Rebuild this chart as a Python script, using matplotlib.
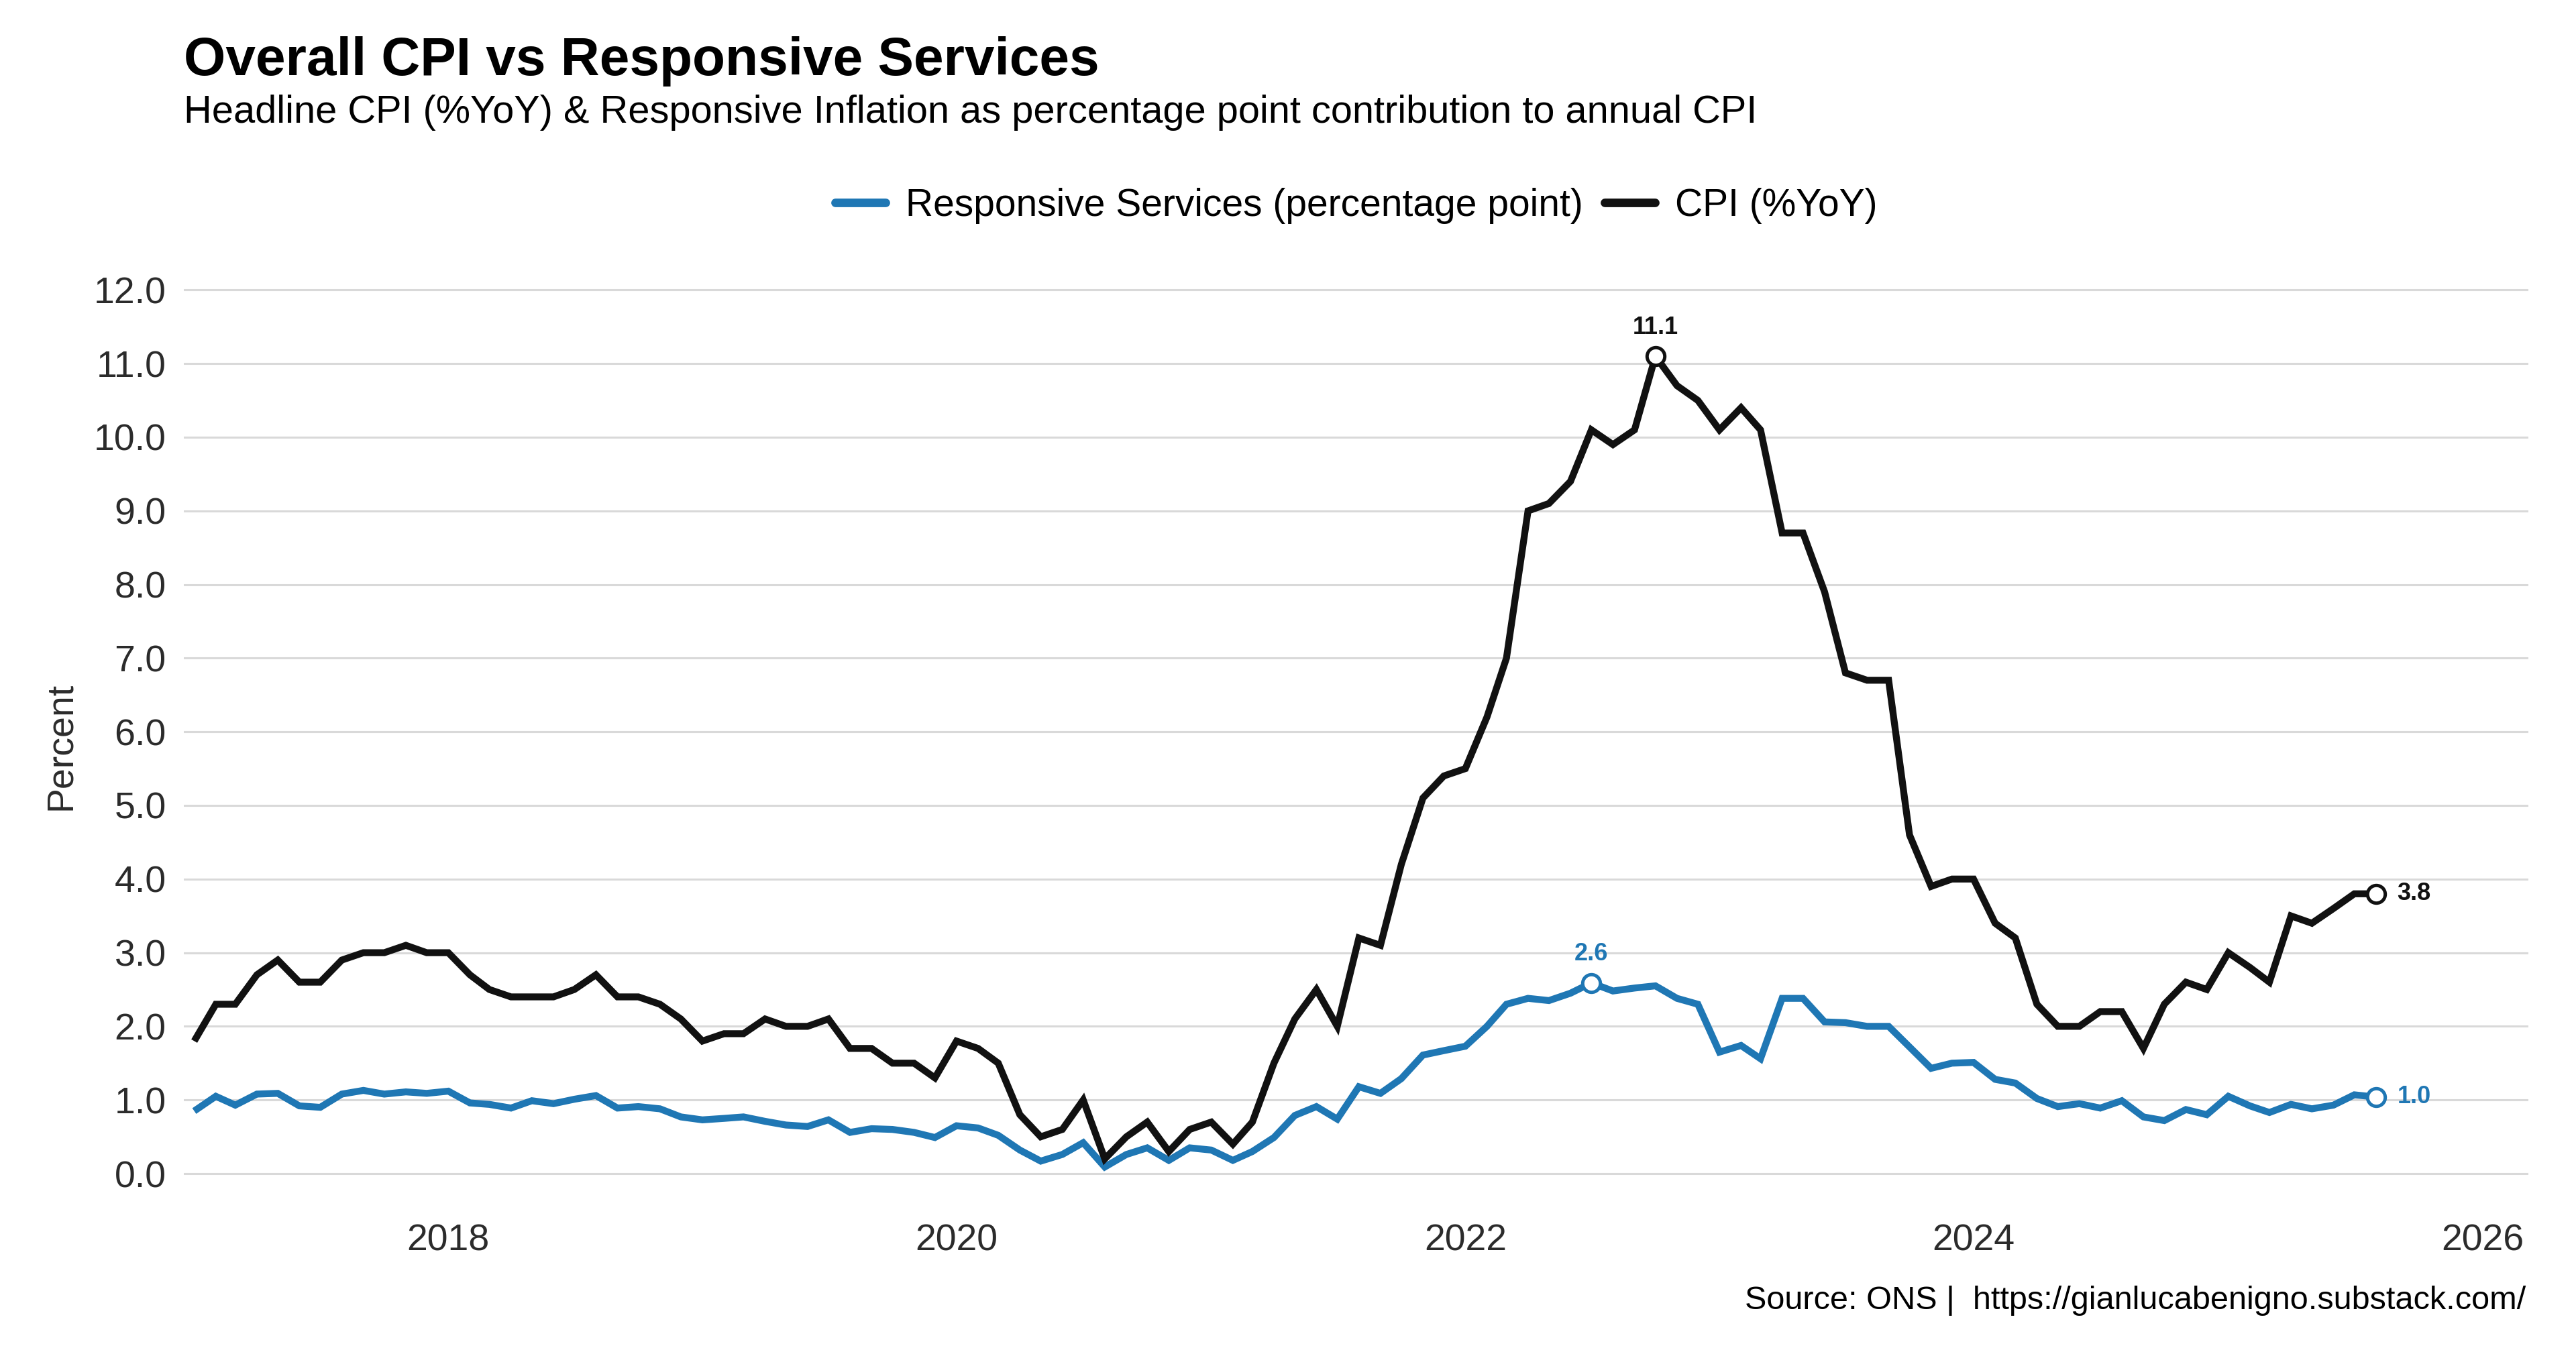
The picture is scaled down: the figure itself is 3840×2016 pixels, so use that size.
import numpy as np
import pandas as pd
import matplotlib
matplotlib.use("Agg")
import matplotlib.pyplot as plt
from datetime import datetime

plt.rcParams['font.family'] = ['Liberation Sans', 'DejaVu Sans']

# monthly data, Jan 2017 - Aug 2025
dates = pd.date_range('2017-01-01', '2025-08-01', freq='MS')

cpi = [1.8, 2.3, 2.3, 2.7, 2.9, 2.6, 2.6, 2.9, 3.0, 3.0, 3.1, 3.0,
       3.0, 2.7, 2.5, 2.4, 2.4, 2.4, 2.5, 2.7, 2.4, 2.4, 2.3, 2.1,
       1.8, 1.9, 1.9, 2.1, 2.0, 2.0, 2.1, 1.7, 1.7, 1.5, 1.5, 1.3,
       1.8, 1.7, 1.5, 0.8, 0.5, 0.6, 1.0, 0.2, 0.5, 0.7, 0.3, 0.6,
       0.7, 0.4, 0.7, 1.5, 2.1, 2.5, 2.0, 3.2, 3.1, 4.2, 5.1, 5.4,
       5.5, 6.2, 7.0, 9.0, 9.1, 9.4, 10.1, 9.9, 10.1, 11.1, 10.7, 10.5,
       10.1, 10.4, 10.1, 8.7, 8.7, 7.9, 6.8, 6.7, 6.7, 4.6, 3.9, 4.0,
       4.0, 3.4, 3.2, 2.3, 2.0, 2.0, 2.2, 2.2, 1.7, 2.3, 2.6, 2.5,
       3.0, 2.8, 2.6, 3.5, 3.4, 3.6, 3.8, 3.8]

responsive = [0.85, 1.05, 0.93, 1.08, 1.09, 0.92, 0.90, 1.08, 1.13, 1.08, 1.11, 1.09,
              1.12, 0.96, 0.94, 0.89, 0.99, 0.95, 1.01, 1.06, 0.89, 0.91, 0.88, 0.77,
              0.73, 0.75, 0.77, 0.71, 0.66, 0.64, 0.73, 0.56, 0.61, 0.60, 0.56, 0.49,
              0.65, 0.62, 0.52, 0.32, 0.17, 0.26, 0.42, 0.09, 0.26, 0.35, 0.18, 0.35,
              0.32, 0.18, 0.30, 0.49, 0.79, 0.91, 0.74, 1.18, 1.09, 1.29, 1.61, 1.67,
              1.73, 2.00, 2.30, 2.38, 2.35, 2.45, 2.59, 2.48, 2.52, 2.55, 2.38, 2.30,
              1.65, 1.74, 1.56, 2.38, 2.38, 2.06, 2.05, 2.00, 2.00, 1.72, 1.43, 1.50,
              1.51, 1.28, 1.23, 1.02, 0.91, 0.95, 0.89, 0.99, 0.77, 0.72, 0.87, 0.80,
              1.05, 0.92, 0.83, 0.94, 0.88, 0.93, 1.07, 1.04]

yticks = np.arange(0, 13, 1)
xtick_years = [2018, 2020, 2022, 2024, 2026]

BLUE = '#1f77b4'
BLACK = '#111111'

fig = plt.figure(figsize=(19.2, 10.08), dpi=200)
ax = fig.add_axes([0.07135, 0.09926, 0.91016, 0.69826])

series = [(responsive, BLUE, 'Responsive Services (percentage point)'),
          (cpi, BLACK, 'CPI (%YoY)')]

for vals, col, lab in series:
    ax.plot(dates, vals, color=col, lw=3.7, label=lab,
            solid_joinstyle='miter', solid_capstyle='butt', zorder=3)
    vals = np.array(vals)
    imax = int(np.argmax(vals))
    # peak marker + label above
    ax.plot(dates[imax], vals[imax], 'o', ms=9.5, mfc='white', mec=col, mew=1.8, zorder=4)
    ax.annotate(f'{vals[imax]:.1f}', (dates[imax], vals[imax]), xytext=(0, 15.5),
                textcoords='offset points', ha='center', va='center',
                fontsize=13, fontweight='bold', color=col)
    # last value marker + label to the right
    ax.plot(dates[-1], vals[-1], 'o', ms=9.5, mfc='white', mec=col, mew=1.8, zorder=4)
    ax.annotate(f'{vals[-1]:.1f}', (dates[-1], vals[-1]), xytext=(11.5, 0),
                textcoords='offset points', ha='left', va='center',
                fontsize=13, fontweight='bold', color=col)

ax.set_xlim(datetime(2016, 12, 17), datetime(2026, 3, 8))
ax.set_ylim(-0.6, 12.22)
ax.set_yticks(yticks)
ax.set_yticklabels([f'{v:.1f}' for v in yticks])
ax.set_xticks([datetime(y, 1, 1) for y in xtick_years])
ax.set_xticklabels([str(y) for y in xtick_years])
ax.tick_params(axis='both', length=0, labelsize=20, labelcolor='#2b2b2b')
ax.tick_params(axis='y', pad=9.5)
ax.tick_params(axis='x', pad=3)
ax.grid(axis='y', color='#d9d9d9', lw=1.1)
ax.grid(axis='x', visible=False)
ax.set_axisbelow(True)
for s in ax.spines.values():
    s.set_visible(False)
ax.set_ylabel('Percent', fontsize=20, color='#2b2b2b', labelpad=8)

fig.text(274 / 3840, 1 - 112 / 2016, 'Overall CPI vs Responsive Services',
         fontsize=28.9, fontweight='bold', ha='left', va='baseline')
fig.text(274 / 3840, 1 - 183 / 2016,
         'Headline CPI (%YoY) & Responsive Inflation as percentage point contribution to annual CPI',
         fontsize=20.8, ha='left', va='baseline')

leg = ax.legend(loc='center', bbox_to_anchor=(2021.5 / 3840, 1 - 307 / 2016),
                bbox_transform=fig.transFigure, ncol=2, frameon=False,
                fontsize=20.5, handlelength=1.33, handletextpad=0.52,
                columnspacing=0.56, borderpad=0)
for h in leg.get_lines():
    h.set_linewidth(4.6)
    h.set_solid_capstyle('round')

fig.text(3765 / 3840, 1 - 1952 / 2016,
         'Source: ONS |  https://gianlucabenigno.substack.com/',
         fontsize=17.5, ha='right', va='baseline')

fig.savefig('out.png', dpi=200, facecolor='white')
